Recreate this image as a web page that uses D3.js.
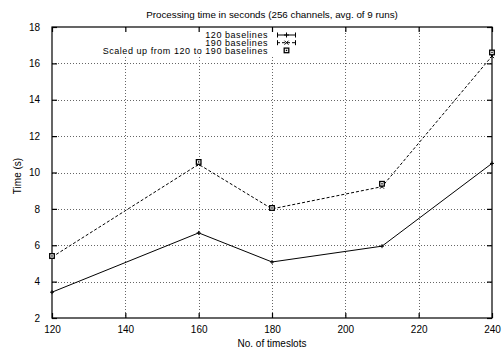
<!DOCTYPE html>
<html><head><meta charset="utf-8">
<script src="https://cdn.jsdelivr.net/npm/d3@7/dist/d3.min.js"></script>
<style>body{margin:0;background:#fff}svg{display:block}text{font-family:"Liberation Sans",Arial,sans-serif;fill:#000}</style>
</head><body><svg id="c" width="502" height="351"></svg>
<script>
const timeslots = [120, 160, 180, 210, 240];
const base120 = [3.42, 6.68, 5.08, 5.95, 10.5];
const base190 = [5.35, 10.45, 8.0, 9.22, 16.4];
const scaled190 = [5.41, 10.58, 8.05, 9.38, 16.6];
const xTicks = [120, 140, 160, 180, 200, 220, 240];
const yTicks = [2, 4, 6, 8, 10, 12, 14, 16, 18];
const title = "Processing time in seconds (256 channels, avg. of 9 runs)";
const xLabel = "No. of timeslots";
const yLabel = "Time (s)";
const legendLabels = ["120 baselines", "190 baselines", "Scaled up from 120 to 190 baselines"];

const svg = d3.select("#c");
const L = 52, R = 492, T = 27, B = 318;
const x = d3.scaleLinear().domain([120, 240]).range([L, R]);
const y = d3.scaleLinear().domain([2, 18]).range([B, T]);

// grid
const g = svg.append("g");
g.selectAll(".gx").data(xTicks.slice(1, -1)).enter().append("line")
  .attr("x1", d => Math.round(x(d)) + 0.5).attr("x2", d => Math.round(x(d)) + 0.5).attr("y1", T).attr("y2", B)
  .attr("stroke", "#666").attr("stroke-width", 1).attr("stroke-dasharray", "1,2");
g.selectAll(".gy").data(yTicks.slice(1, -1)).enter().append("line")
  .attr("y1", d => Math.round(y(d)) + 0.5).attr("y2", d => Math.round(y(d)) + 0.5).attr("x1", L).attr("x2", R)
  .attr("stroke", "#666").attr("stroke-width", 1).attr("stroke-dasharray", "1,2");

// legend background
svg.append("rect").attr("x", 98).attr("y", T + 1).attr("width", 202).attr("height", 27).attr("fill", "#fff");

// axes with inward ticks
const axB = d3.axisBottom(x).tickValues(xTicks).tickSize(-5).tickPadding(8);
const axT = d3.axisTop(x).tickValues(xTicks).tickSize(-5).tickFormat("");
const axL = d3.axisLeft(y).tickValues(yTicks).tickSize(-5).tickPadding(12);
const axR = d3.axisRight(y).tickValues(yTicks).tickSize(-5).tickFormat("");
function style(sel) {
  sel.select(".domain").remove();
  sel.selectAll("line").attr("stroke", "#000").attr("stroke-width", 1.2);
  sel.selectAll("text").attr("font-size", 10).attr("font-family", "Liberation Sans, Arial, sans-serif");
}
svg.append("g").attr("transform", `translate(0,${B})`).call(axB).call(style);
svg.append("g").attr("transform", `translate(0,${T})`).call(axT).call(style);
svg.append("g").attr("transform", `translate(${L},0)`).call(axL).call(style);
svg.append("g").attr("transform", `translate(${R},0)`).call(axR).call(style);
svg.append("rect").attr("x", L).attr("y", T).attr("width", R - L).attr("height", B - T)
  .attr("fill", "none").attr("stroke", "#000").attr("stroke-width", 1.2);

// lines
const line = d3.line().x(d => x(d[0])).y(d => y(d[1]));
svg.append("path").datum(timeslots.map((t, i) => [t, base120[i]])).attr("d", line)
  .attr("fill", "none").attr("stroke", "#000").attr("stroke-width", 1);
svg.append("path").datum(timeslots.map((t, i) => [t, base190[i]])).attr("d", line)
  .attr("fill", "none").attr("stroke", "#000").attr("stroke-width", 1).attr("stroke-dasharray", "3,2");

function plus(sel, cx, cy, s) {
  sel.append("path").attr("d", `M${cx - s},${cy}H${cx + s}M${cx},${cy - s}V${cy + s}`).attr("stroke", "#000").attr("stroke-width", 1);
}
function cross(sel, cx, cy, s) {
  sel.append("path").attr("d", `M${cx - s},${cy - s}L${cx + s},${cy + s}M${cx - s},${cy + s}L${cx + s},${cy - s}`).attr("stroke", "#000").attr("stroke-width", 1);
}
function square(sel, cx, cy, s) {
  sel.append("rect").attr("x", cx - s).attr("y", cy - s).attr("width", 2 * s).attr("height", 2 * s)
    .attr("fill", "#fff").attr("stroke", "#000").attr("stroke-width", 1.3);
  sel.append("rect").attr("x", cx - 0.7).attr("y", cy - 0.7).attr("width", 1.4).attr("height", 1.4).attr("fill", "#000");
}
const m = svg.append("g");
timeslots.forEach((t, i) => {
  plus(m, x(t), y(base120[i]), 2);
  cross(m, x(t), y(base190[i]), 2);
  square(m, x(t), y(scaled190[i]), 2.3);
});

// legend
const ly = [35, 42.7, 50.4];
const lg = svg.append("g");
legendLabels.forEach((txt, i) => {
  lg.append("text").attr("x", 268).attr("y", ly[i]).attr("dy", "0.35em").attr("text-anchor", "end")
    .attr("font-size", 9).attr("letter-spacing", 0.55).text(txt);
});
function caps(sel, yy, dash) {
  sel.append("line").attr("x1", 277).attr("x2", 296).attr("y1", yy).attr("y2", yy).attr("stroke", "#000").attr("stroke-width", 1).attr("stroke-dasharray", dash);
  sel.append("line").attr("x1", 277.5).attr("x2", 277.5).attr("y1", yy - 2.5).attr("y2", yy + 2.5).attr("stroke", "#000");
  sel.append("line").attr("x1", 295.5).attr("x2", 295.5).attr("y1", yy - 2.5).attr("y2", yy + 2.5).attr("stroke", "#000");
}
caps(lg, ly[0], null); plus(lg, 286.5, ly[0], 2.5);
caps(lg, ly[1], "3,2"); cross(lg, 286.5, ly[1], 2);
square(lg, 286.5, ly[2], 2.3);

// titles
svg.append("text").attr("x", 272).attr("y", 15).attr("dy", "0.35em").attr("text-anchor", "middle").attr("font-size", 9.8).text(title);
svg.append("text").attr("x", 272).attr("y", 343).attr("dy", "0.35em").attr("text-anchor", "middle").attr("font-size", 10).text(xLabel);
svg.append("text").attr("transform", "translate(17,176) rotate(-90)").attr("dy", "0.35em").attr("text-anchor", "middle").attr("font-size", 10).text(yLabel);
</script></body></html>
